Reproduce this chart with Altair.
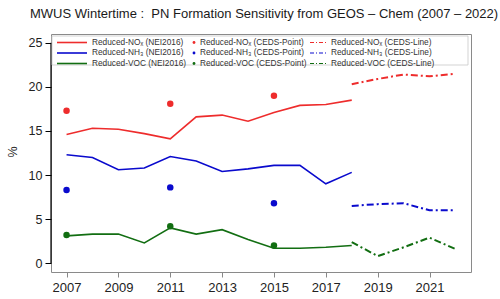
import altair as alt
import pandas as pd

# NEI2016 model runs, 2007-2018
years_nei = list(range(2007, 2019))
nox_nei = [14.6, 15.3, 15.2, 14.7, 14.1, 16.6, 16.8, 16.1, 17.1, 17.9, 18.0, 18.5]
nh3_nei = [12.3, 12.0, 10.6, 10.8, 12.1, 11.6, 10.4, 10.7, 11.1, 11.1, 9.0, 10.3]
voc_nei = [3.1, 3.3, 3.3, 2.3, 4.0, 3.3, 3.8, 2.7, 1.7, 1.7, 1.8, 2.0]

# CEDS single-year runs
years_pt = [2007, 2011, 2015]
nox_pt = [17.3, 18.1, 19.0]
nh3_pt = [8.3, 8.6, 6.8]
voc_pt = [3.2, 4.2, 2.0]

# CEDS continuous runs, 2018-2022
years_line = list(range(2018, 2023))
nox_line = [20.3, 20.9, 21.4, 21.2, 21.5]
nh3_line = [6.5, 6.7, 6.8, 6.0, 6.0]
voc_line = [2.4, 0.8, 1.8, 2.9, 1.6]

species = ["NOx", "NH3", "VOC"]
colors = ["#ee2c2c", "#0a0acd", "#126e12"]
names = ["Reduced-NOₓ", "Reduced-NH₃", "Reduced-VOC"]

def long(years, series):
    rows = []
    for sp, vals in zip(species, series):
        for yr, v in zip(years, vals):
            rows.append({"year": yr, "value": v, "species": sp})
    return pd.DataFrame(rows)

nei_df = long(years_nei, [nox_nei, nh3_nei, voc_nei])
pt_df = long(years_pt, [nox_pt, nh3_pt, voc_pt])
line_df = long(years_line, [nox_line, nh3_line, voc_line])

W, H = 420, 238
FONT = "Liberation Sans"

x_scale = alt.Scale(domain=[2006.4, 2022.6], nice=False, zero=False)
y_scale = alt.Scale(domain=[-1, 26], nice=False, zero=False)
color_scale = alt.Scale(domain=species, range=colors)

x_enc = alt.X(
    "year:Q", scale=x_scale, title=None,
    axis=alt.Axis(
        values=list(range(2007, 2023)), format="d",
        labelExpr="datum.value % 2 == 1 ? datum.label : ''",
        domain=False, grid=False, tickColor="#888888", tickSize=5,
        labelFont=FONT, labelFontSize=13, labelColor="#222222", labelPadding=4,
    ),
)
y_enc = alt.Y(
    "value:Q", scale=y_scale, title=None,
    axis=alt.Axis(
        values=[0, 5, 10, 15, 20, 25], domain=False, grid=False,
        tickColor="#000000", tickSize=6, labelFont=FONT, labelFontSize=12.5,
        labelColor="#222222", labelPadding=3,
    ),
)
c_enc = alt.Color("species:N", scale=color_scale, legend=None)

nei_lines = alt.Chart(nei_df).mark_line(strokeWidth=1.6).encode(
    x=x_enc, y=y_enc, color=c_enc, detail="species:N"
)
ceds_lines = alt.Chart(line_df).mark_line(strokeWidth=2, strokeDash=[7, 3, 2, 3]).encode(
    x="year:Q", y="value:Q", color=c_enc, detail="species:N"
)
ceds_points = alt.Chart(pt_df).mark_circle(size=42, opacity=1).encode(
    x="year:Q", y="value:Q", color=c_enc
)

# left axis line spanning 0-25
axis_line = alt.Chart(pd.DataFrame({"lo": [0], "hi": [25]})).mark_rule(
    color="#000000", strokeWidth=1.2
).encode(x=alt.value(0), y="lo:Q", y2="hi:Q")

layers = [nei_lines, ceds_lines, ceds_points, axis_line]

# legend box
layers.append(
    alt.Chart(pd.DataFrame({"a": [0]})).mark_rect(
        fill="white", stroke="#c8c8c8", strokeWidth=0.8
    ).encode(x=alt.value(1), x2=alt.value(417), y=alt.value(2), y2=alt.value(31))
)

rows_y = [9, 19.5, 30]
LFS = 8.3
for name, col, ry in zip(names, colors, rows_y):
    ry = ry - 0.5
    layers.append(
        alt.Chart(pd.DataFrame({"a": [0]})).mark_rule(color=col, strokeWidth=1.6).encode(
            x=alt.value(6), x2=alt.value(36), y=alt.value(ry), y2=alt.value(ry)
        )
    )
    layers.append(
        alt.Chart(pd.DataFrame({"a": [0]})).mark_text(
            text=f"{name} (NEI2016)", align="left", baseline="middle",
            font=FONT, fontSize=LFS, color="#333333"
        ).encode(x=alt.value(41), y=alt.value(ry))
    )
    layers.append(
        alt.Chart(pd.DataFrame({"a": [0]})).mark_circle(size=8, color=col, opacity=1).encode(
            x=alt.value(143), y=alt.value(ry)
        )
    )
    layers.append(
        alt.Chart(pd.DataFrame({"a": [0]})).mark_text(
            text=f"{name} (CEDS-Point)", align="left", baseline="middle",
            font=FONT, fontSize=LFS, color="#333333"
        ).encode(x=alt.value(149), y=alt.value(ry))
    )
    layers.append(
        alt.Chart(pd.DataFrame({"a": [0]})).mark_rule(
            color=col, strokeWidth=1.2, strokeDash=[4, 2, 1, 2]
        ).encode(x=alt.value(259), x2=alt.value(277), y=alt.value(ry), y2=alt.value(ry))
    )
    layers.append(
        alt.Chart(pd.DataFrame({"a": [0]})).mark_text(
            text=f"{name} (CEDS-Line)", align="left", baseline="middle",
            font=FONT, fontSize=LFS, color="#333333"
        ).encode(x=alt.value(280), y=alt.value(ry))
    )

# chart title and y-axis label
layers.append(
    alt.Chart(pd.DataFrame({"a": [0]})).mark_text(
        text="MWUS Wintertime :\u00a0\u00a0PN Formation Sensitivity from GEOS – Chem (2007 – 2022)",
        align="left", baseline="middle", font=FONT, fontSize=13, color="#1a1a1a"
    ).encode(x=alt.value(-21), y=alt.value(-20))
)
layers.append(
    alt.Chart(pd.DataFrame({"a": [0]})).mark_text(
        text="%", angle=270, align="center", baseline="middle",
        font=FONT, fontSize=12.5, color="#222222"
    ).encode(x=alt.value(-38), y=alt.value(118))
)

chart = alt.layer(*layers).properties(
    width=W, height=H,
    autosize=alt.AutoSizeParams(type="none"),
    padding={"left": 51, "top": 34, "right": 29, "bottom": 27},
    background="white",
).configure_view(stroke="#8a8a8a", strokeWidth=1)

chart.save("out.html", embed_options={"renderer": "svg", "actions": False})
